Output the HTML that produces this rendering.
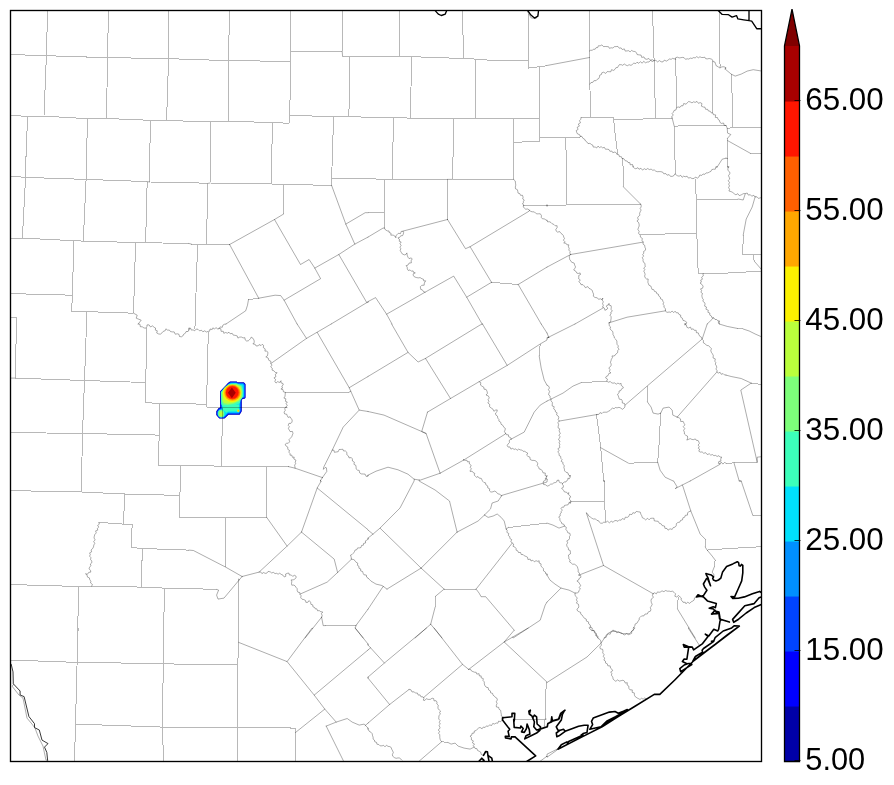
<!DOCTYPE html>
<html><head><meta charset="utf-8"><title>map</title>
<style>
html,body{margin:0;padding:0;background:#fff;}
body{width:894px;height:785px;overflow:hidden;font-family:"Liberation Sans",sans-serif;}
svg{display:block}
text{font-family:"Liberation Sans",sans-serif;font-size:32px;fill:#000}
</style></head><body>
<svg width="894" height="785" viewBox="0 0 894 785">
<rect width="894" height="785" fill="#fff"/>
<defs><filter id="idf" x="0" y="0" width="100%" height="100%" filterUnits="userSpaceOnUse" color-interpolation-filters="sRGB"><feColorMatrix type="saturate" values="0"/></filter><clipPath id="mapclip"><rect x="10.5" y="10.5" width="751" height="751"/></clipPath></defs>
<g clip-path="url(#mapclip)">
<g transform="translate(200,365) scale(0.08276)">
<clipPath id="bc"><polygon points="365,195 445,195 450,207 530,207 553,232 553,395 540,408 515,410 505,425 505,560 480,600 345,600 295,650 235,650 195,605 195,560 225,520 243,515 243,318 340,215"/></clipPath>
<g clip-path="url(#bc)">
<rect x="150" y="150" width="450" height="550" fill="#0000b4"/>
<polygon points="367,201 443,201 448,213 528,213 547,235 547,392 537,402 511,405 499,423 499,558 477,594 343,594 293,644 238,644 201,603 201,562 228,526 249,520 249,321 344,220" fill="#0010ff"/>
<polygon points="369,207 441,207 446,219 525,219 541,238 541,389 534,396 507,399 493,421 493,556 474,588 341,588 291,638 241,638 207,601 207,564 231,532 255,526 255,324 348,225" fill="#0050ff"/>
<polygon points="371,213 439,213 444,225 522,225 535,241 535,386 530,390 503,393 487,419 487,554 471,582 339,582 289,632 244,632 213,599 213,566 234,538 261,532 261,327 352,230" fill="#0098ff"/>
<polygon points="374,220 437,220 442,232 518,232 528,245 528,382 499,387 480,417 480,551 467,575 336,575 286,625 248,625 220,596 220,569 238,545 268,538 268,331 357,237" fill="#00e0fb"/>
<polygon points="276,506 472,478 468,542 458,560 342,561 318,578 296,556 276,545" fill="#3cffba"/>
<polygon points="252,325 295,272 350,228 440,222 508,248 522,300 520,385 490,425 480,462 420,492 340,508 275,503 256,470" fill="#3cffba"/>
<polygon points="262,330 300,278 350,236 440,229 500,256 513,320 508,392 472,440 402,470 332,484 282,476 264,442" fill="#7dff7a"/>
<polygon points="272,335 305,284 352,243 438,236 493,262 505,322 498,390 466,432 400,458 335,468 292,458 274,432" fill="#baff3c"/>
<ellipse cx="386" cy="342" rx="110" ry="106" fill="#fbf100"/>
<ellipse cx="391" cy="336" rx="99" ry="96" fill="#ffa700"/>
<ellipse cx="392" cy="334" rx="87" ry="85" fill="#ff6000"/>
<ellipse cx="390" cy="333" rx="76" ry="76" fill="#ff1600"/>
<polygon points="385,272 432,335 385,402 338,335" fill="#a80000"/>
<ellipse cx="256" cy="588" rx="40" ry="46" fill="#3cffba"/>
<ellipse cx="256" cy="588" rx="32" ry="40" fill="#7dff7a"/>
<ellipse cx="256" cy="590" rx="22" ry="32" fill="#baff3c"/>
<circle cx="462" cy="553" r="17" fill="#7dff7a"/>
<circle cx="462" cy="553" r="12" fill="#fbf100"/>
<circle cx="462" cy="553" r="8" fill="#ffa700"/>
</g></g>

<path d="M10,54.5 46.4,55.7 107.5,57.7 168.6,58.5 189,59.5M10,115.1 27.6,116.5 44,116.1 87.1,118.7 106.5,118.5 150.2,120.3 166.6,120.1 189,121.3M47.6,10 46.4,55.7 44,116.1M108.5,10 107.5,57.7 106.5,118.5M168.6,10 168.6,58.5 166.6,120.1M27.6,116.5 25.6,167M87.5,118.7 86.3,167M150.6,120.3 149.4,167M189,59.5 228.4,60.5 290.5,61.5M189,121.3 210.6,121.5 228.4,121.3 272.5,122.5 289.1,123.3M229.6,10 228.4,60.5 228.4,121.3M290.5,10 290.5,51.4 290.5,61.5 290.1,98.1 289.1,123.3M290.5,51.4 342.2,51.4M342.6,10 342.2,51.4M342.6,56.5 368,56.5M349.6,56.5 349.6,98.1 348.6,116.5M289.7,115.5 333.6,116.5 348.6,116.5 368,117.3M210.6,121.5 210.6,167M272.5,122.5 271.5,167M333.6,116.5 332,167M399.6,10 399.2,56.5M368,56.5 399.2,56.5 411.5,56.7 452.1,58.1 463.5,58.5 475.5,59.1 488.1,60.1 528.6,60.5M462.5,10 463.5,58.5M528.6,14 528.6,60.5 528.2,68.1 539.2,66.7 547,65.7M411.5,56.7 410.5,118.1M475.5,59.1 475.5,118.3M539.6,66.7 539.6,118.3 539.6,141.2M368,117.7 393.6,117.7 410.5,118.1 453.5,118.3 475.5,118.3 513.6,118.3 539.6,118.3M393.6,117.7 392.4,167M453.5,118.3 452.9,167M513.6,118.3 513.6,167M513.6,142.4 539.6,141.2M539.6,137.2 547,137.2M589.5,10 589.5,51 589.9,84.1 590.5,117.5M652.5,10 654.1,60.5 655.5,118.7M675.6,59.5 676.8,108.1M719.2,10 719.6,60.1 720.2,66.1M712.8,61.1 712.8,113.1M614.1,119.7 655.5,118.7 672.2,118.1M674.2,126.1 675.2,167M674.2,126.1 699.2,125.5 726,125.5M581,117.5 590.5,117.5 613.5,117.5 615.1,134.1 617.5,153.2M622.1,158.2 623.1,167M547,137.4 565.6,137.8 580,137M565.6,137.8 566.6,167M731.6,74.1 732.8,128.1M727.6,138.2 727.6,167M727.2,128.1 762,127.1M750.2,153.2 762,153.8M25.6,167 25.6,177.4 22.4,238.1M10,176 25.6,177.4 86.1,179.4 147.2,181.6M149.6,182 189,182.6M86.3,167 86.1,179.4 83.3,241.1M149.6,167 149.6,182M147.2,181.6 145.6,242.7M10,238.1 22.4,238.1 73.7,240.7 83.3,241.1 135.6,242.5 145.6,242.7 189,243.5M73.7,240.7 72.5,295.2 71.5,311.2M135.6,242.5 133.5,313.2M10,293.6 72.5,295.2M71.5,311.2 86.5,311.6 133.5,313.2M86.5,311.6 86.5,324M10,317.2 16.6,317.2 16.6,324M210.6,167 210,183M271.5,167 271.5,184M331.6,167 331.6,178.6 331.6,185.4M331.6,178.6 368,178.6M189,182.6 208,183.4M210,183 271.5,184 283.5,184.4 331.6,185.4M207.6,183.4 206.6,244.1M283.5,184.4 283.5,214.1M191.4,244.1 197.6,244.1 206.6,244.1 229.6,244.5M197.6,244.1 195,324M248.5,299.6 258.7,298.2M392.4,167 392.4,179.4M452.5,167 452.5,179.4M513.6,167 513.6,179.4M368,178.6 384.4,179.4 392.4,179.4 447.5,179.4M452.5,179.4 513.6,179.4M384.4,179.4 384.4,212.7 384.4,228.1M368,212.7 384.4,212.7M447.5,179.4 447.5,219.5M523.2,205 547,205M491.5,282.3 518.2,284.5M566.6,167 566.6,205M547,206 566.6,205 593.1,204.2 640.5,204M623.5,167 623.5,187M675.2,167 675.2,174M695.6,178.6 696.2,200 696.8,233.1 698.2,273.5M696.2,200 726,199M640.5,234.7 696.8,233.1M698.2,273.5 726,273.1M726,199 738.2,199M743.2,235.1 742.8,254.5 762,254.5M753.2,254.5 754.2,261.1M726,273.1 762,271.1M16.6,324 15,378.1M15,378.1 84.5,380.5 145.6,382.5M86.5,324 84.5,380.5 82.5,433.5 81.5,481M146.8,328 146.2,364 145.6,382.5 145.2,402.5M145.2,402.5 159.2,403.5 189,403.5M159.2,403.5 159.2,435.1 158.2,465.2M10,432.5 82.5,433.5 159.2,435.1M158.2,465.2 180.6,465.6 189,465.6M180.6,465.6 180.6,481M208.4,331.6 207.4,364 206.6,407.3M189,403.5 206.6,404.7M206.6,407.3 287.1,407.5M222.6,407.5 221.4,466.2M189,465.4 221.4,466.2 266.5,466.6 288.5,466.6M266.5,466.6 266.5,481M285.5,392.5 349.2,392.1M540.2,344 539.2,356M607.1,381.1 581,382.7M596.5,414.5 600.7,447.7 603.7,481M628.5,463.2 657.7,462.2M647.1,386.1 647.5,402.1M660.7,413.1 659.1,444.1 657.7,462.2M751.2,383.1 762,384.5M726,463.2 757.2,462.2M737.2,328.4 743.2,329M81.5,481 81.5,492M10,490.6 81.5,492 124.7,494 179.8,495.4M180.6,481 179.8,495.4 179.2,517 189,517.4M124.7,494 123.5,524.1M98.7,522.4 123.5,524.1 132.1,524.5 131.5,547.5 142.2,548.5 189,550.1M142.2,548.5 141.6,587.1M10,584.5 78.7,586.5 91.7,586.1 141.6,587.1 164.6,588.1 189,588.5M78.7,586.5 77.5,638M164.6,588.1 163.4,638M266.7,481 266.7,517.4M189,517.4 225.6,517.4 266.7,517.4M225.6,517.4 225.6,567.1M325.2,625.6 356.2,625.2M238.7,579.1 238.7,638M217,589.5 189,588.5M508.2,527.5 547,523.1M444.1,589.1 476.1,589.1M435.7,596.1 435.1,607.2M571,502 604.5,501M604.5,481 604.5,501 605.7,522M705.2,539.1 705.2,547.1M715.2,560.1 714.2,567.1M707.2,550.1 726,548.7M678.2,596.7 677.6,609.2M752.8,515.4 762,516M726,548.7 762,546.7M78.1,628 77.1,662.4 75.5,724.1 74.5,761.2M163.8,628 163.2,663.6 162.6,727.1 163.4,761.2M10,660 77.1,662.4 163.2,663.6 189,664.6M75.5,724.1 162.6,727.1 189,727.5M238.7,628 238.7,642.4 237.7,665 237.5,727.1 237.5,761.2M189,664.6 237.7,665M189,727.1 237.5,727.1 295.5,728.1 295.5,761.2M441.7,741.7 448.1,742.5M515.2,719.1 531.2,719.1 546.2,719.1M546.2,682.1 545.2,719.1 544.2,726.1M621.1,633 629.1,634M195.5,322 194.6,329.5" fill="none" stroke="#000" stroke-opacity="0.28" stroke-width="1" shape-rendering="crispEdges"/>
<path d="M342.2,51.4 342.6,56.5M527.2,11 531.2,18 536.2,18.4 538.2,14M547,65.5 589.5,57.5M589.5,51 590.7,50.2 592.4,50.3 593.5,49.1 595.1,49.3 596,47.7 597.7,47.6 598.3,45.8 600.2,45.8 601.9,44.9 603.5,46.6 605.3,46.5 607.1,46.6 608.5,46.7 609.4,48.3 611.2,47.8 612.9,48 614.3,46.7 616.1,46.6 617.9,46.4 619.2,48.2 621.1,47.9 622.2,49.5 624.4,48.9 625.2,51.1 627.2,50.9 628.6,50.7 630.1,51.9 631.6,50.4 633.1,51.3 635,51.5 636.4,52.6 637.2,54.6 639.2,54.9 641.1,55.1 641.7,57.4 644,56.9 644.9,58.8 646.8,59.3 648.9,58.5 650.4,60.2 652.4,59.7 654.1,60.8 655.9,60.3 657.5,61.9 659.5,60.6 661.1,61.8 663,61.9 664.3,60.1 666.4,61.1 667.9,60.2 669.4,59 671.2,59.3 672.7,58.3 674.5,59.1 675.8,57.6 677.4,57.2 679.2,57.9 680.8,57.7 682.5,57.4 684.1,57.7 685.5,59.3 687.2,58.8 688.8,59.1 690.3,58.1 692,58.5 693.5,57.6 695.2,57.9 696.7,56.6 698.4,57.8 699.9,56.8 701.6,57.5 703.2,57.5 704.8,57.2 705.7,58.7 707.3,58.9 709.2,58.5 711.2,59 712.5,59.8 713,61.5 715,62.1 715.5,63.9 716.3,65.9 718.4,66.8 719.7,68.1 721.4,67.1 723,66.7 724.6,67 726.1,67.8 725.2,69.1M589.9,84.1 590.9,82.6 592.9,82.3 593.9,80.7 596.1,80.7 597.2,79.3 598.8,78.5 599.5,77 599.7,75.2 601.4,74.5 601.8,72.8 603.7,72.2 605.7,73.4 607.2,71.6 609,71.7 610.8,71.8 611.5,69.7 613.7,70.4 615,69.3 615.9,67.7 617.6,67.5 618.4,66 619.3,64.7 621.3,64.7 622.6,65.3 624.3,64 625.9,65.1 627.4,65.7 629.1,64.7 631,65.4 632.4,64.4 633.8,63.1 635.7,63.6 637,62.2 638.8,63.3 640.4,61.7 642.2,63.2 643.7,61.3 645.5,62.8 647.1,62 649,62 650.4,60.4 652.5,61.5 654.1,60.5M675.4,58.3 675.6,59.5M720.2,66.1 720,67.3M672.2,118.1 671.7,116.5 673.3,115.2 672.1,113.5 673.4,112.2 674,110.5 676,109.9 676.5,107.9 678,106.9 680,107.4 681,105.8 683,105.8 683.7,103.5 686.1,104.2 687.3,102.7 688.7,101.5 690.4,102 692,102.9 693.6,101.8 695.2,102.4 697,101.4 698.4,103.3 700.2,102.6 702,103.6 701.4,106.2 703.4,107 705,107.2 705.6,109.3 707.6,109.3 708.4,111 710.2,111.2 711.1,112.8 712.9,113 713.4,114.7 715.7,114.9 715.3,117.4 717.5,117.6 718,119.4 719.5,120.4 719.9,122.3 721.4,123.4 723.6,123 724.2,125.4 726,125.5M672.2,118.1 674.2,126.1M617.5,153.2 617.1,154M581,117.5 580.8,119.3 579.5,120.7 580.5,122.8 578.3,124 579.4,126.1 577.2,127.3 578.1,129.4 576.2,130.6 576.8,132.6 577.6,134 579.4,134.5 580.2,136.2 582.1,136.7 582.9,138.3 584.6,139.2 585.5,141 587.1,142.1 588,143.6 590,143.3 591.2,144.4 592.7,145 593.3,147.1 595.2,147 596.6,148 598,146.1 599.6,147.6 601.1,146.6 602.4,147.8 604.4,147.4 605.4,149.2 607.2,149.2 608.9,149.5 609.9,151.3 611.8,151 612.8,152.7 614.9,152 616.3,152.9 617.3,154.5 619,154.8 619.4,156.6 621.4,156.7 621.9,158.4 624,158.8 625.1,160.7 627.2,161.1 628,162.5 629.9,162.7 630.2,164.8 632.5,164.5 633,166.3 633.1,167M580,137 580.7,136.1M716.2,167 717.2,167 722.2,159.2 726,158.2M725.3,68 725.2,69.1 731.2,74.1 735.2,76.1 741.2,74.1 747.2,71.1 753.2,69.7 762,71.1M726,125.5 727.2,128.1 727.6,133.1 730.8,134.5 727.6,138.2M727.6,167 728.8,167M727.6,140.6 750.2,153.2M726,158.2 727.6,158.6M147.2,181.6 149.6,182M133.5,313.2 137.2,315.2 136.2,318.2 141.2,320.2 138.2,324M208,183.4 210,183M283.5,214.1 274.5,219.5 229.6,244.5M189,243.5 191.4,244.1M229.6,244.5 258.7,298.2M274.5,219.5 300.5,264.5 309.1,259.5 314.8,268.1 320.6,278.7 284.1,300.2M331.6,185.4 345.8,224.1 354.8,244.1M345.8,224.1 365.2,212.7 368,212.7M314.8,268.1 338.8,254.5 354.8,244.1 368,237.1M338.8,254.5 366.8,302.6M368,301.6 368,302.2 366.8,302.6 331.2,324M226,324 245.7,310.8 247.5,305.2 248.5,299.6M258.7,298.2 275.1,295.2 280.7,295.6 284.1,300.2 297.1,324M447.5,179.4 452.5,179.4M368,237.1 383,228.1 384.4,228.1M447.5,219.5 403,231.1M384.4,228.1 385.4,229.8 387.2,230.9 389.1,231 389,232.4 391.1,233.3 390.8,235.2 393.1,235.1 394.7,235.9 395.9,237.8 395.8,235.8 397.1,234.7 398.3,233.3 400.5,233.6 401.2,231.4 403.2,231.3 403.6,232.5 403.3,234.1 402.6,235.6 400.7,235.8 399.7,237.4 397.9,237.9 399.4,239.2 399.3,241.3 401.2,242 400,243.6 401.1,245.6 399.9,247.1 400.8,248.7 400.2,250.5 401.1,252.1 402.2,253.9 404.3,254.9 405.8,254.5 406.9,252.9 407.2,255.2 407.9,257.1 409,258.6 411,257.9 412.2,258.8 411.1,260.8 411.4,262.8 409,263.1 408,265.1 406.1,265.6 407.2,267.2 407.3,269 408.3,270.5 410.1,269.9 411.4,271.2 413.1,270.9 413.7,272.5 415.3,272.9 413.5,273.6 413,275 414.3,276.8 416.2,277.5 418.2,277.9 420.1,277.6 422,278.8 423.4,279.2 423.8,281 425.7,280.8 424.3,283 424.2,285.2 421.8,285.3 420.3,286.8 420.8,289.5 422.3,289.8 423.4,291.5 425.1,292.2M447.5,219.5 465.5,248.7 470.1,246.7 491.5,282.3M470.1,246.7 529.2,211.1 529.5,210.2M513.6,179.4 515.2,180.9 515.5,183.2 515.8,185.1 515.3,187 515.5,188.8 517.4,189.7 517.8,191.3 518,193.1 519.8,193.6 520.5,195.3 522.5,195.3 523.1,197.2 522.7,198.9 524.3,200 523.4,201.3 523.4,202.8 522.4,204 524,205 523.1,206.9 524.4,208 525.7,209.2 527.7,209 529.2,209.9 530.6,211.4 532.4,211.8 534.3,211.9 535.5,213.1 536.9,213.9 538.6,213.8 540.3,213.8 541.4,215.5 541.3,217.5 542.6,218.9 544.1,218.8 545.6,219.7 547,220.7M547,205 547.1,206M386.6,314.2 425.1,292.2 453.7,276.1 466.7,297.2 482.1,324M466.7,297.2 491.5,282.3M518.2,284.5 547,267.1M518.2,284.5 541.2,324M368,302.2 368,301.6 375.6,297.6 386.6,314.2 392,324M547,205 547,206M623.5,187 640.5,204M633.1,166.2 633.2,167 634.4,168.2 635.9,168.8 637.9,167.7 639,169.3 640.9,168.2 642.5,170.1 644.3,168.7 646,169.7 647.7,168.5 649.4,169.6 651.1,169.1 652.6,170.2 654.4,170 655.8,171.2 657.4,171.7 659.1,171.6 660.9,171.7 662.7,172.1 663.8,173.8 665.9,173.6 667.1,175.2 669.1,174.6 670.4,176.3 672.2,176.4 673.9,175.6 674.9,173.8 676.3,175 677.6,175.8 679.1,176.2 680.7,175.3 682.1,177.3 683.7,176.1 685.1,176.8 687.1,176.2 688.4,178.1 690.3,177.6 692.1,178.6 694.2,178.4 695.3,177.1 697.6,178.1 698.9,177 699.8,175 701.8,175.4 703,174 704.9,174.3 706.1,172.9 707.9,172.9 709.3,172.1 710.9,171.4 711.8,169.6 713.5,169.2 715.3,169.2 715.9,166.8 717.2,167M640.5,204 641.2,205.5 641.1,207 640.1,208.6 641.2,210 640.3,211.6 639.6,213.3 639.9,215.2 638.5,216.4 637.6,217.8 638.4,219.9 636.9,221 638.5,222.4 639.1,224.1 639.2,226 638.4,227.8 637.9,229.5 639.2,231.4 638.5,233.1 639.3,234.3 640.3,235.3 640.4,237.1 642.3,238.4 642,240.5 643.2,242 643,244.1 644.7,245.3 644.9,247.2 645.7,248.9 645.3,250.4 643.6,251.5 643.8,253.2 642.7,254.5 643.7,256.2 642.2,257.5 643.1,259.2 643,260.7 643.5,262.3 645,263.4 645,265.2 645.3,266.7 643.7,268 644.9,269.7 643.7,271.1 644.7,272.8 645.1,274.4 644.6,276.1 645.2,277.8 646.3,278.9 648.2,279 648,280.7 647.9,282.3 648.4,283.7 648.9,285.2 650.8,286 651.4,287.6 651.9,289.3 653.8,289.7 654.6,291.5 656.3,291.9 656.8,293.7 658.5,294.3 658.8,296.1 660.3,297.1 660.6,298.9 662.4,299.6 662.9,301.3 663.7,302.6 662.9,304.3 664.3,305.6 663.8,307.2 665.5,308.7 665.3,310.9 667,312.4 669.2,312 670.7,312.4 672.1,311 673.7,312.6 675.1,311.2 676.3,312.8 678.2,312.8 679,314.5 680.7,315.1 680.7,317.2 682.3,318.1 683,320.4 685.3,321 686.6,322.3 686,324 685.2,325M570.6,254.5 643.1,242.1M547,220.1 547.6,221.8 549.7,221.8 551.1,222.6 552.2,223.8 553.8,224.4 555.2,225.8 557.1,225.7 557.1,227.8 555.8,229.3 556.2,231.1 557.5,232.1 559.7,231.6 560.9,233.3 562.2,234.2 563.3,235.5 563.8,237.2 564.5,238.6 563.3,240.1 564.8,241.6 563.8,243.1 565.8,243.1 566.9,244.8 568.8,244.8 568.4,246.8 569.2,248.4 568.8,250.1 570.1,251.4 569.8,253.1 570.7,254.5 569.2,256 569.5,258.1 569.8,259.7 570.9,261 571.7,262.3 574.1,263 574.8,265.4 575.6,267 574.7,268.5 573.7,270 575.9,271.3 576.9,273.2 578.6,273.4 580.1,272.9 580.5,274.5 578.7,275.5 578.8,277.2 578.6,278.7 580.3,279.9 578.8,281.8 580.4,283.1 581,284.7 583,284.7 584.2,285.9 585.4,287.7 587.8,286.6 589,288.3 590.7,289.2 592.2,290.3 592.8,292.4 593.6,294.1 593.3,296.2 595,297.5 597.3,297.8 598.5,299.3 600.5,298.8 602,299.7 602.9,298 602.1,299.9 603.3,301.8 602.6,303.6 603.3,305.4 602.5,307.2 604.4,308.2 604.9,310.3 607,309.3 607.9,308 606.4,306.7 607,305.1 608.3,305.1 609,303.4 609.3,305.2 611.1,305.7 611.3,307.3 611,309.3 612.4,311.1 610.8,312.2 611.1,314 609.8,315 611.1,316.7 611.1,318.4 610.8,320.2 610.7,321.9 609.1,322.8M547,267.1 570.6,254.5M575,324 602.7,308.2 603.2,307.8M703.2,273.5 703,274.1 703.3,275.9 701.6,277.3 702.5,279.2 700.7,280.1 701.4,282.1 700,283 701.9,284.4 703.1,286.2 702.6,288.2 700.5,288.9 701.6,290.5 700.9,292.3 702.5,293.5 701.9,295.2 702,296.7 702.4,298.2 703.4,299.6 702.8,301.2 704.4,302.4 705.1,303.9 704.6,306.1 706.5,307 705.9,309.2 708.3,310.2 707.9,312.3 709.8,313 709.8,315.1 711.4,316 712,317.9 714,318 715,319.5 716.7,319.5 717.7,320.8 719.3,320.9 718.4,322.6 719.2,324M707.2,324 712.2,319.2 713.3,317.7M609.1,322.8 627.1,317.2 665.5,310.8M727.6,167 728.8,166.7 727.9,168.7 727.9,170.4 729.8,172.1 729.8,173.8 728.5,175.6 729.2,177.3 729.8,179 728.1,180.7 729.5,182.4 728.7,184.2 729.5,185.9 728.6,187.6 729.6,189.3 728.9,191 731.1,191.6 732.8,192.5 734.3,193.8 735.9,194.8 737.8,193.7 739.3,195.6 741.2,194.9 742.4,194.2 743.7,193.6 745.3,193.6 747.2,193 748.3,195.1 750.3,194.7 751.7,196.2 753.8,195.3 755.1,197 757,196.8 758.4,198.4 760.6,197.8 762,199M738.2,199 743.2,200 745.2,194M755.2,196.6 752.2,207 746.2,219.1 743.2,235.1M754.2,261.1 762,270.1M10,378.1 15,378.1M138.2,324 140,324.3 140.3,326.7 142.3,326.8 144,328 146.1,328.1 146.9,326.6 147,324.9 149.1,324.9 150.4,326.9 152.6,325.9 154.1,327.3 155.6,328 155.3,330.1 157.3,330.8 156.7,333 158.4,333.9 160.3,334.2 162.1,332.8 163.2,331.4 165.2,330.7 165.9,328.8 167.5,330.1 169.4,330.1 170.5,331.6 172.3,331.9 174.2,331.9 175.2,334.2 177.3,333.8 179,334.3 179.5,336.5 181.4,336.8 182.8,336 183.7,334.2 185.4,333.2 186.1,331.5 188.1,331.5 188.8,329.8 189.8,328.4M189,330 188.7,328 190.6,328.2 191.3,330.1 193.1,329.9 194.7,330.8 196.3,329 198,329.3 199.5,330.8 201.6,330.3 202.9,331.8 204.7,330.8 206.4,332 208,331.4 209.6,331.2 210,329 212.2,329.5 212.9,327.8 214.5,329.1 216.1,327.5 217.5,329.1 219,328.7 220.1,326.9 222.3,327.3 222.9,325.1 224.3,324.3 226,324M219,328.4 220.9,328.8 221,331.3 223.3,331.3 223.8,333.3 225.7,332.5 227.4,333.2 229,332.2 230.2,333.8 232.2,333.3 233.2,335.1 235,335.3 237.2,335.9 237.9,338.1 239.7,337.1 241.3,337 243.1,337.9 244.9,337.7 245.2,339.9 246.3,340.9 248.2,340.9 249.3,339.9 250.5,338.7 251.2,337.1 252.9,338.2 254,340.1 254.3,342.2 252.9,344 255,344.1 256.1,346 258.2,345.8 259,344.6 261.1,345.5 262.2,344.3 263.6,345.4 263.3,347.6 265.2,348.9 264.9,351.1 266.7,351.2 268,352.3 267.8,353.8 267.5,355.7 265.8,356.9 268.2,358 268.8,360.3 270.9,361.3 270.8,363.6 272.1,365 270.7,366.9 272.3,368.3 272,370.1 273.9,370.8 275.3,372.4 277.2,372.8 275.3,374.3 275.9,376.8 273.9,377.9 275.6,379.4 274.9,381.6 276,383.1 277.5,381.7 279.7,382.4 281,380.7 280.9,382.8 283,383.5 283.2,385 281.8,386.1 282.6,388.1 280.9,389 283,389.6 283.4,391.8 285.3,392.3 285.2,394.4 285,396.3 283.9,398.1 285.9,398.8 285.4,401.3 287.3,402 286.1,403.6 287.3,405.6 285.8,407 284.8,408.5 285.2,410.6 284,412 284.6,413.9 286.8,414.3 287.3,415.9 288.1,417.4 290.1,416.8 291,418.3 292.2,420 292,422.1 291,423.3 288.9,423.4 288.2,425.3 289.3,426.6 288.4,428.5 289.3,430.1 290.1,431.6 292.4,431.4 293,433.3 292.4,435 291.7,436.8 290.3,438.3 289,439.6 289.7,441.8 288.3,443.2 286.5,443.3 285.2,444.3 285.9,445.9 287.8,447.1 287.8,449.4 289.5,450.4 288.9,452.2 290,453.5 290,455.2 291.8,455.1 292.4,457.3 294.2,457 293.8,459 296,460.2 295.2,462.3 295.7,463.7 294.6,465.1 294.9,466.7 295.1,468.2M287.1,407.5 286.1,407.1M288.5,466.6 295.1,468.2 322.4,477.6M297.1,324 306.5,338.4M271.1,363.4 306.5,338.4 331.2,324M317.2,332.4 349.2,387.7 359.2,410.1 368,411.5M349.2,392.1 350.8,391.3M349.2,387.7 368,376.5M359.2,410.1 343.2,427.1 332.2,450.2 323.6,467.4 323.4,469.4 325.2,467.4 326.4,467.8 326.8,471.4 322.4,477.6M322.4,477.6 320.2,481 320.9,481.4M332.2,450.2 333.9,450.1 334.4,452.3 336.2,452 338.2,451.7 339.1,449.5 341.4,449.4 342.8,449.2 343.6,451 345.3,450.9 346.9,452.4 346.8,454.7 348.5,456 349,457.9 351.3,457.6 352.4,458.9 352.4,461 354.4,462.2 353.9,464.3 355.8,465.3 356.1,467 356.1,468.9 357.4,470.1 359.2,470.4 359.7,472.9 361.2,473.9 363.3,474 365.1,474.1 366.1,476.4 368.1,476.1 368,475.2M391.6,324 408,352.4 418.1,362 425.5,358.4 480.1,325 482.5,324M368,376.5 408,352.4M425.5,358.4 450.5,398.5M482.5,324 507.2,365.4M541.2,324 547,333M427.5,412.1 450.5,398.5 479.1,381.7 507.2,365.4 540.2,344 547,340 547,338M427.5,412.1 421.7,431.5 426.1,433.5M368,411.5 384,415.1 421.7,431.5 426.1,433.5 440.1,473.2M479.1,381.7 480.8,382.7 480.5,385.1 482,386.2 483.8,387.2 484,389.2 486.1,389.4 487,391.3 487.5,393.3 486,395 488.3,395.9 489.3,397.9 488.1,399.6 488.9,401.5 487.8,403 489.7,404.4 489.6,406.8 491.2,408 493,409.2 493.9,411.3 495.5,410.1 497.2,409.9 497.1,411.6 495.5,413.1 495.9,415.1 497.5,416.2 497.7,418.1 498.9,419.3 498.9,421.1 500.8,422.3 501,424.2 502.9,425.4 503.9,427.4 505.4,428.5 505,430.1 504.4,431.7 505.5,433.1 506.3,434.7 508.4,434.8 508.7,436.8 510.5,437.6 511.2,439.1M440.1,473.2 464.1,459.8 505.2,434.1 505.6,433.4M539.2,356 541.2,368.1 544.2,380.1 547,385.1M511.2,439.1 524.2,432.1 529.2,422.1 534.2,412.1 540.2,405.1 547,401.1M511.2,439.1 509.3,440.3 509.4,442.6 508,444 507.2,445.6 508.1,447.1 509.9,446.9 510.9,449.1 512.8,448.3 514.1,449.5 515.7,448.8 517.1,450.3 518.7,449.1 520.2,449.9 521.8,450 523.1,451.3 524.8,451.3 526.1,452.3 527.7,453.1 526.7,455.2 527.9,456.3 529.9,457.1 530.2,459.5 532,460.4 534.1,460.4 535.8,460.9 537.1,462.3 537.8,463.8 537.2,465.6 538.6,467.1 539.1,468.9 541.2,469.5 542.4,471 543,472.9 545.3,473 545.1,475.6 547.3,475.9 546.3,476.8M367.6,476 368,475.2 376,471.2 388,467.2 398,469.8 408,474.2 414.1,479.2 420.1,480.2 440.1,473.2M548.7,337.3 547,338 575,324M547,333 549,338 548.6,337.2M609.1,322.8 609.2,324 609.2,325.7 610.6,326.9 610,328.9 611.1,330.1 612.6,331.3 613,332.9 613,334.7 614,336.1 614.4,338 615.8,339.4 616.9,341 616.9,343.1 617.2,344.7 618.4,345.9 617.8,347.8 619.2,349 617.8,350.5 617.6,352.7 615.9,354 615.1,355.4 613.7,356 612,355.9 612.4,357.7 611.4,359.2 611,360.8 610.4,362.3 611.2,364.1 611,365.7 610.1,366.9 608.8,367.9 610,369.6 609.5,371.6 610.9,373 608.8,373.5 608,375.7 606.3,376.4 605.6,377.9 607.5,379.2 606.7,381.1 608.4,382.2 610.3,381.5 611.5,382.8 613,383.2 614.7,382.9 616.2,384.2 617.9,383.1 619.5,383.9 621.1,383.4 621.2,385.4 622.7,386.5 623.4,387.9 621.6,388.8 620.8,390.6 619,391 619.1,392.8 617.5,394.2 618.4,396.1 618.8,397.6 619.3,399.2 621.5,399.5 622.3,400.9 622.3,403 624.5,403.5 624.9,405.2 624.9,407 623.8,408.3 622.4,409.3 620.6,408 619,407.3 617,407.9 615.5,407.5 614.1,408.7 612.4,408.1 611.1,409.2 609.9,410.6 608.4,411.3 607,412.2 605.1,412.2 603.3,412.2 602,413.5 600,412.6 598.8,414.4 597.1,414.5M581,382.7 573,386.1 563,393.1 551,399.1 547,401.1M547,385.1 548.7,386.2 549.5,388 548.4,389.6 549.6,391.5 548.9,393.1 548.6,394.8 550.1,396 550.1,397.7 551.2,399 550.9,400.8 552.3,402.3 552.3,404 552.1,405.9 554.2,406.7 553.7,408.9 555.2,410 555.4,411.8 557.1,412.8 556.6,414.9 558.2,416 558.8,417.7 558.1,419.6 559.4,421 557.9,422.6 558.6,424.5 558.2,426.2 558,427.8 559.8,428.9 559.1,430.8 559.7,432.2 560.3,433.7 558.8,435 560.1,436.8 559.3,438.2 558.5,439.8 560.1,441 559,442.8 559.9,444.2 559.4,445.7 559.9,447.5 557.9,448.7 559,450.7 557.7,452.1 559.2,453.4 559,455.4 560.7,456.4 560.8,458.3 562,459.5 561.2,461.4 563.1,462.5 562.8,464.2 564.3,465.5 563.9,467.5 564.4,469.1 564.6,470.9 565.9,472.2 568,472.9 568.5,475 570,476.2M559,421.1 597.1,414.5M603.7,481 604.5,481M600.7,447.7 628.5,463.2M625.1,405.1 647.1,386.1 702.2,339 707.2,324M647.5,402.1 651.1,407.1 653.1,413.1 658.1,414.1 660.7,413.1M657.7,462.2 660.1,470.2 665.1,477.2 673.2,481M660.7,413.1 663.1,408.1 669.1,407.1 672.2,410.1 672.8,415.1 677.2,417.1M677.2,417.1 679,417.8 680.5,418.9 680.7,421.5 683.2,421.4 684,423.3 684.9,424.9 683.2,426.7 684.8,428.5 683.6,430.3 684.4,432.1 684.4,434 685.7,435.2 687.4,436 687.7,438.1 686.8,440.1 688.7,439.3 690.2,438.6 692,439.5 693.7,439.6 695.3,438.9 696.1,440.2 698.2,440.6 699,442.3 699.3,443.7 698,445 699.4,446.8 698.1,448.1 699.6,449.1 698.8,451.2 700.4,452.1 702.1,451.9 703.7,453.3 705.7,452.7 707.2,454.5 709.3,453.8 710.7,455.1 712.5,454.6 713.9,455.7 715.7,455.4 717.1,456.5 718.9,455.7 720.1,457.1 721.7,457 720.7,459.1 721,461.2 718.9,461.4 718.3,463.3 719.8,463.7 721.3,462.2 722.9,464.1 724.5,462.5 726,463.2M677.2,417.1 716.8,372.1M685.9,323.4 684.2,324.1 686.3,324.9 686.9,327.3 688.5,328 690.5,327.1 691.4,329.4 693.2,328.8 694.2,330.3 696.2,330.3 696.4,332.7 698.3,332.9 698.9,334.7 699.8,336.3 701.5,337.3 702,339.1 703.4,340.5 703.4,342.8 705.3,343.9 706.6,345.4 708.7,345.8 710.1,347.2 711.4,348.6 710.8,350.7 711.4,352.4 712.5,353.9 713.3,355.6 713,357.9 715.3,358.9 714.8,361.2 715.8,362.6 715.3,364.2 716.3,365.7 716.8,367.2 715.9,369 717,370.4 716.9,372 718.1,373.2 720.1,372.3 721.2,374.3 723.1,373.6 724.4,374.9 726,375.1M690.2,481 720.2,464.2 720.2,463.2M726,375.1 731.2,376.5 741.2,378.5 751.2,383.1M751.2,383.1 740.8,390.1 757.2,462.2M757.2,462.2 757.2,457.2 762,456.6M734.2,462.9 734.2,463.6 739.2,481 741.2,481M719.2,321.2 719.2,324 727.2,326.4 737.2,328.4M743.2,329 749.2,331 755.2,334 762,337M98.7,522.4 99.4,524.1 97.6,525.4 98.8,527.1 97.3,528.5 97.8,530.1 95.6,530.9 96.3,532.9 94.8,534.5 94.3,536.2 94,538 95.2,539.9 93.7,541.5 94.8,543.4 93.8,545 93.5,547 92.5,548.7 91,550 91.7,551.8 89.6,552.9 90.3,554.7 89.5,556.1 90.9,557.6 90.6,559.6 91.8,561 91.8,562.8 90.3,564 90.9,565.8 89.6,567.1 89.1,568.9 90.5,570.4 90.8,572.1 88.7,572.4 87.6,574.2 85.5,573.8 87.1,575.2 87.5,577.1 89.4,577.9 89.8,579.8 90.9,581.2 90.5,582.9 92.4,584.4 91.7,586.1M189,550.1 193.4,550.5 225.6,567.1 242.1,576.5M266.7,517.4 287.1,546.1M242.1,576.5 259.1,572.1 287.1,546.1 301.5,532.1M301.5,532.1 317.2,488 321.2,481 320.4,480.5M317.2,488 368,529.7M301.5,532.1 334.2,559.1 337.6,572.5M300.1,594.1 327.2,582.1 337.6,572.5 351.6,559.1M259.1,572.1 260.7,571.9 261.9,573.6 263.7,572.5 265.1,573.4 266.9,573.1 268.1,571.4 270.2,571.8 271.5,572.9 273.6,572.4 275,573.7 276.6,573.3 278.1,574.2 279.7,573.2 281.1,574.3 283,575.2 284.3,577 285.8,576.3 285.6,574 287.4,573.3 288.8,573 289.5,575.1 291.2,574.9 292.6,576.3 294.6,575.3 296.1,576.3 296.1,577.8 294.8,579 293.2,579.9 291.1,579.9 291.8,581.7 291.5,583.5 291.8,585.2 293.8,585.1 295.1,585.9 296,587.3 297.2,588.7 297.2,590.6 297.9,592.2 299.8,592.5 300,594.3 301.1,595.7 300.7,597.8 302,599.2 303.9,599.6 305.4,600.4 305.9,602.4 308,602.2 309.1,600.6 310.6,602.2 310.9,604.3 312.8,604.9 312.9,606.8 314.7,607.5 315.4,609 316.8,608.8 317.6,610.8 319.2,610.6 320.8,611.7 322.8,612 321.4,613.6 322.2,615.6 321.6,617.2M321.6,617.2 323.2,625.6 325.2,625.6M356.2,625.2 368,609.2M356.2,625.2 355.2,628.2 363.2,638M321.6,617.2 305.1,638M239.4,579.7 238.7,579.1M242.1,576.5 224,598.1 218,599.1 216.6,595.1 218.6,590.1 217,589.5M368,538.1 368.2,539.1 366.9,540.1 365.4,540.9 365.6,543 363.6,543.4 363.4,545.2 361.6,545.4 361,547.5 359.4,547.9 357.6,547.9 356.8,549.7 355.1,550 354.4,551.8 353.4,553.2 352.1,554.5 350.4,555.3 351.2,557 351.3,559.2 353.5,559.5 355,560.6 356.1,562.3 357.8,563.2 357.4,565.3 359,566.3 358.9,568.2 360.7,568.9 360.7,571 362.6,571.5 363.1,573.2 363.9,574.8 366.3,575 366.6,577.1 368,578.1M414.3,479.2 414.1,481 400,508 380,528.1 421.1,568.1M368,539.1 368,538.1 373,534.1 380,528.1M368,530.1 373,534.1M419.2,480 419.1,481 435.1,490 449.5,501 457.1,532.1M457.1,532.1 421.1,568.1M457.1,532.1 478.1,521 484.5,515M484.5,515 490.5,509 492.1,503 498.2,501 501.8,495.4M501.8,495.4 547,482 547.3,479.3M484.5,515 488.1,517.4 493.2,516 497.2,514 501.2,517.4 504.2,521 506.2,529.1M506.2,529.1 508.2,527.5M506.2,529.1 507.2,530.4 506.9,532.4 508.8,533.5 508.3,535.5 509.8,536.7 509.9,538.5 511.7,539.6 510.8,541.8 512.3,543 513.7,544.1 513,546.3 514.9,547.1 516,548.3 516.1,550.2 517.7,550.8 518.5,552.5 520.6,552.5 521.2,554.5 523.2,554.6 524.4,555.9 526,556.4 527.5,557.2 527.9,559.5 530.2,559.1 531,561 532.8,560.2 534.4,561.8 536,560.7 537.6,561.3 539.2,560.8 539.1,563 541.1,563.9 540.9,565.9 542,567.2 543.4,568.6 543.5,570.9 545.4,572 545.5,573.6 547.1,574 547,575.1M512.2,543.1 476.1,589.1M421.1,568.1 444.1,589.1M421.1,568.1 387,589.1M368,578.1 371,581.1 376,584.1 382,585.5 387,589.1M383.3,586.4 382,588.1 368,609.2M444.1,589.1 435.7,596.1M435.1,607.2 430.7,624.2M430.7,624.2 415.1,638M430.7,624.2 442.1,638M476.1,589.1 479.1,593.1 481.1,596.7 485.7,596.7 514.2,630.2M512.6,637.1 513.2,638 540.2,620.2 545.2,605.1 547,602.1M571,502 569,502.5 568.1,504.8 566.1,505.1 564.5,505.4 563.8,507.2 562.1,507.1 561,508.4 562.3,510.1 561.2,511.5 561.2,513 560,514 560.2,516 558.7,516.9 559.9,518.6 559.9,520.6 561.3,521.9 561.8,523.7 563.9,524.3 564.5,526.1 566.3,527.3 565.9,529.5 567.2,531 567.8,532.8 569.9,533.3 570.3,535.3 569.5,536.4 569.5,538.5 568.6,540 566.8,540.9 567.7,542.8 566.6,544.7 567,546.4 568.4,548 568.4,549.8 570.2,550.5 570.4,552.2 570.4,553.9 568.4,555.1 568.8,557.2 568.8,558.8 570.2,560 569.6,561.9 571.2,563 572.5,564.2 574.5,564.2 576,565.3 577.3,566.5 577.8,568.3 578.3,570 578,571.9 579.7,573.2 578.7,575.2 580.7,575.5 580.9,577.3 579.4,578.1 578.6,580 576.9,581 578.8,582.3 579.9,584.2 580.7,585.8 579.2,587.3 580.4,589.1 578.9,590.5 578.7,592.1 577.1,593 575,592.9 575,595.1 576,596.6 577.3,598 576.4,599.8 577.3,601.5 576.4,603.1 578.4,604.2 578.8,606.3 578.4,607.9 576.9,609.1 577.5,610.8 578.8,611.7 580.6,612.3 580.8,614.2 582.2,615.1 583.2,616.7 584.3,618.2 586.2,619 586.4,621.1 588.5,621.9 588.7,623.9 590.3,625 590.3,627 592.3,628.1 591.9,630.2 594.1,630.8 594.5,633 596.3,634 596.3,635.7 597,636.9 598.1,638M547,523.1 553,525.1 559,528.1 564.6,526.1M603.7,481 604.5,481M586.4,513 587.9,514.2 588.6,515.9 590.2,516.9 591.7,518.1 593.3,519 595.5,518.9 596.9,520.4 598.5,520.7 599.3,522.1 600.5,523.1 602.2,523.3 603.7,522.2 605.8,522.4 607.5,521.2 609.4,522.8 611.2,521.2 613.1,522.3 614.5,520.7 616.1,520.5 618,521.3 619.3,519.9 621.1,520.2 622.3,518.6 624.5,519.4 625.3,517.2 627.3,517.4 628.8,516.4 629.6,514.3 631.9,514.5 632.9,512.7 635,513.2 636.3,511.4 638.2,511.8 640.2,512 640.9,514.3 641.8,515.8 642.3,517.7 644.2,518.6 645.6,519.9 647.6,518.3 649.1,519.8 650.5,518.4 652.2,518.2 654,518.3 654.2,520.8 656.1,521.1 658.2,521.3 659.3,523.3 661.2,523.9 662.2,525.6 664.5,526 664.9,528.3 667,528.5 668,530.2 670,528.8 672.2,529.4 673.2,527.6 675.1,527.1 676.2,525.8 676.4,523.6 677.8,522.5 679.9,522.1 680.6,520.4 682.5,519.9 682.9,517.8 684.7,517.2 685.3,515.3 687.5,515.1 687.6,512.7 689,511.7 690.8,511M682.3,485 682.8,486 690.8,511 700.2,534.1 705.2,539.1M705.2,547.1 707.2,550.1 712.2,556.1 715.2,560.1M714.2,567.1 712.2,572.1 714.2,575.1 713.1,576.4M673.6,481 677.2,487 675.2,488.6 690.2,481M586.4,513 603.5,565.5M579,575.1 603.5,565.5 653.1,593.7M653.1,593.7 654.5,592.8 656.4,593.8 657.5,591.9 659.2,592.3 660.7,591.8 662,590.8 663.9,591.7 665.6,590.5 667.4,591.2 669.2,591.1 670.7,591.5 672.6,591.2 674.1,592.4 675.6,593.9 674.8,596.2 676.7,597 678.6,595.5 680.1,597 681.3,598 681,599.9 682.4,601 683.2,602.4 685.2,602.2 686,603.8 687.6,602.2 689.7,603.4 691.1,601.9 692.7,601.1 694.1,600.1 694.5,597.9 696.2,597.1M677.6,609.2 695.2,638M653.1,593.7 652.4,595.4 653.4,597.4 651.5,598.8 651,600.5 651.3,602.4 652.2,604.3 651.4,606 650.3,607.6 650.9,609.5 650.4,611.2 648.3,611.9 647.3,614 645,614 643.9,615.9 641.6,615.9 640.2,617.3 639.1,618.3 639.2,620.1 638,621.1 637.1,623.1 635,624.1 635,625.8 633.7,627 633.3,628.6 633.4,630.3 631.6,631.2 631.7,633.3 630,634.1 628.3,634.7 626.6,633.7 624.8,634.9 623.1,634.4 621.8,633 620.2,632.8 618.8,631.9 616.8,632.9 615.7,631.4 614,631.4 612.4,631.4 610.9,632.1 610.2,634.2 608.2,633.9 607,635 606.2,637.3 604.1,638M547,574.1 547,575.1 550,580.1 555,584.1 561,588.1 569,590.1 575,593.1M561,588.1 547,602.1M739.2,481 741.2,481 752.8,515.4M13.8,684.4 12,686.1 19,695.1 23,698.1 27,718.1 32,724.1 35,728.1 38,736.1 43,746.1 46,760.2 47.6,760M238.7,642.4 287.1,661.6 312.1,628 312.7,628.4M287.1,661.6 314.2,695.1 324.8,709.1 336.2,722.1M314.2,695.1 368,650M355.2,628 368,644 368,645M295.5,732.5 324.8,709.1M326.2,726.1 336.2,722.1 347.2,718.5 352.2,722.1 359.2,725.1 364.2,724.1 368,728.1 368,729.1M326.2,726.1 343.6,761.2M368,678.1 368,677.1 384.4,663 426.5,628M368,644 368,645 384.4,663M368,677.1 368,678.1 389.6,704.5M368,723.1 389.6,704.5 409,689.5M409,689.5 411,689.8 412,692 414.2,691.8 415.4,693.1 417.4,693 418.2,695.1 420.1,694.9 420.9,696.8 422.9,696.8 423.9,698.3 423.3,700.2 424.9,700.4 426.3,698.7 428.1,699.4 430.3,699.4 432.1,698.2 433.7,698.6 434,700.9 436.1,700.7 437,702.2 436.8,703.9 438.3,705.3 437.9,707.1 438.2,708.9 439.3,710 440.6,711 439.6,712.5 440.4,714.2 438.9,715.5 438.9,717.1 438.7,719 440.1,720.5 439.3,722.4 440.3,724.1 438.9,725.4 440,727.3 439.6,728.8 438.1,730 439.7,731.4 438.5,733.2 439.7,734.6 439.8,736.1 439.8,737.7 440.1,739.2 440.6,740.5 441.7,741.7M423.6,697.7 424.1,697.1 462.5,664.4M434.1,628 462.5,664.4 468.7,669.4M468.7,669.4 504.2,642 514.2,630.2M504.2,642 528.2,628M504.2,642 547,682.1M468.7,669.4 470.5,669.3 471.5,671 473,671.6 474.5,672.2 476.2,672.3 476.8,674.1 479.1,673.7 479.3,675.9 481.2,675.9 481.1,677.8 483.3,678.6 483,680.5 484.3,681.9 484.3,683.9 484.9,685.6 486,687.1 488.2,687.7 488.6,689.9 490.4,690.9 490.6,692.8 492.6,693.4 493,695.2 494.4,696.1 495.4,697.4 496.9,698.2 497.4,699.9 496.3,701.7 497.1,703.5 496.3,705.1 496.4,707 498.7,707.4 499,709.2 500.7,710.4 500.9,712.3 501.3,714.1 501.3,716.1 503.2,717.1M503.2,717.1 503.3,719.2 501.7,720.5 500.6,721.7 498.6,721.1 497.9,723.2 496.1,723 494.7,724 492.7,723.5 491.6,725.5 489.5,724.9 488.2,726.4 486.4,725.9 485.1,727.5 483.3,727 482.1,728.8 480,727.4 478.5,728.1 477.2,729.2 476.2,730.5 474.3,731 474.1,733.1 472,733.3 471.7,735.3 470,736 471.4,737.6 471.4,739.9 473.4,740.9 472.4,742.8 474.5,744 473.1,745.8 474.4,747.1 475.1,748.5 477,748.7 477.6,750.5 479.1,751.2 480.8,752.2 481.2,754.4 483.1,755.2M448.1,742.5 451.1,744.1 455.1,743.1 458.1,746.1 464.1,748.1 470.1,749.1 474.1,747.1M441.7,741.7 419.1,761.2M368,728.1 368.1,729.1 369,731.1 370.9,732.2 372.2,733.7 372.5,735.5 373.1,737.2 373.1,739.1 374.4,740 374.8,741.8 376.6,742.4 376.9,744.2 378.8,744.5 380.2,745.9 382.2,745.8 383.5,745.3 385,746.8 386.5,745.2 388,746.4 389.8,746.6 391.2,747.5 391.8,749.4 392.6,750.8 393.3,752.5 392.4,754.5 392.7,756.2 394.4,757.6 396.1,758.3 398.1,757.9 399.7,758.1 400.9,759.1 402,760.2M514.4,719.1 515.2,719.1M546.2,719.1 545.2,719.1M544.2,726.1 544.7,727.6M540.2,761.2 547,756.2 547.5,756.8M547,682.5 587,657 601.1,643 607.1,634 613.1,630.4M590.9,627.3 589,627.8 590.4,629.3 591.6,630.7 594,630.3 595,632.1 596.2,633.3 595.7,635.4 598,636.2 597.8,638.2 599.7,639.3 600.8,640.9 601,643.1 601.4,645.2 599.8,647 600.4,648.9 602.6,649.3 603,651.1 602.7,652.9 604.1,654.6 603.3,656.5 604.7,658.1 603.9,660.1 605.4,661.1 605.6,663.1 607.3,663.8 607.8,665.8 610.2,665.9 610.5,668.1 611.9,669.2 612.7,670.7 610.7,671.9 611.9,673.7 611.3,675.1 612.2,676.2 612.9,677.6 613.1,679.2 614.4,680.3 615.8,681.3 617.6,679.9 619.3,681.1 621.1,680.7 623,680.2 624.4,681.1 625.3,683.1 627.3,682.7 627.1,685 628.9,686.2 628.8,688.2 629.9,689.8 632.3,689.9 632.2,692.4 634.3,692.9 634.4,695.2 635.4,696.8 637.2,698 638.6,698.7 640,699.5 641.7,698.2 643.1,699.2 644.5,698 646.2,698.7 646.5,699.2M613.1,630.4 621.1,633M629.1,634 635.1,628 634,627.6M688.8,627.6 688.2,628 699.2,645 699.6,645.6M547,756.2 547,754.2 558,748.7M546.5,756.5 547,757.2 557,750.1 556.7,749.4M547,476.1 546.4,476.9 546.3,478.3 547,479.4 545.4,478.1 545.4,480.3 543.5,481.2 543.2,482.9 543.6,484.5 545.4,484.7 547.2,486.1 549.1,485.5 550.5,484.2 552.4,484 553.9,482.8 555.7,482.5 556.8,481.8 557,480.4 558.9,480.1 559,481.8 560.1,482.8 561.2,482.7 562.4,483.4M569.8,475.9 570.2,475 570.1,477.3 569.5,478.6 567.9,478.2 568,479.8 566.6,480.7 565.9,482 564.2,482 562.5,483.5 562.5,484.8 563.5,485.8 563.2,487.5 561.6,488.2 563.5,490.3 564.5,492 566.6,492.2 567.5,493.5 569,492.7 568.2,494.4 569.7,495.4 570.8,497.1 569.5,497.8 569.6,499.6 570.6,500.5 570.6,502.2 570.1,503.6 569.6,502.9M463.7,460 463.1,459.6 465,460.4 466.9,460.2 467.5,461.9 469.3,461.6 469.4,463.9 471.2,465.4 470.2,467.3 471.5,468.9 470.3,470.1 470.2,471.5 472.1,471.1 473.1,472.6 474.8,473.4 474.2,475.1 475.4,476.3 476.5,477.3 478,476.5 479.1,478.1 481.3,478.4 482.1,480.2 482.9,481.5 483.9,482.5 485.5,482.8 485.9,484.9 487.7,485.9 487.8,488 489.7,488.8 489.5,490.9 490.9,492.1 492.9,491.8 494.9,491 496.8,492.5 497.8,493.8 499.8,494.3 501.6,495.9M368,650 370.6,647.8M368.3,722.9 365.1,725.6" fill="none" stroke="#000" stroke-opacity="0.53" stroke-width="0.62" stroke-linejoin="round" stroke-linecap="round"/>
<path d="M761.3,592.5 759.6,591.4 752.4,593.8 744.4,596.9 738.2,598.3 732.8,598.4 731,596.5 734.6,596.9 738.6,588 741.7,580.9 742.8,572.8 742.8,565.3 741.5,564.4 740.4,566.1 739.1,565.7 738.6,562.6 737.3,561.7 732.8,563.9 726.6,566.6 722.6,571.9 720.8,578.2 718.5,580 715.9,581 713.4,580 712.7,578.2 713.6,576.8 711.4,575.1 708.3,574.2 705.9,573.5 706.5,575.1 707.8,577.3 709.2,581.8 710.5,585.8 708.9,581.8 707.4,578.2 706.5,578.6 703.4,584 704.7,587.1 706.9,590.2 703.4,595.6 701.1,596.2 698,594.7 696.4,596.9 700.3,596.2 703.4,596.9 707.4,600.9 716.3,603.6 715.4,607.6 713.2,606.7 709.2,608.2 713.6,609 714.5,610.7 711.8,614.3 716.8,613.4 715.9,611.2 719,612.1 719.9,617.4 720.3,619.2M761.3,596.9 759.1,597.8 754.2,603.6 744.8,605.8 739.1,612.1 732.6,619.4 733.7,622.3 738.6,619.2 746.2,613 754.2,607.6 761.3,604.5M711.5,614 715.1,610.4 717.3,613.6 711.5,614M717.3,613.6 718.7,612.2 719.6,618.9 729.4,622.1 720.9,619.4 720,621.2 718.7,629.2 717.8,631 713.8,629.2 708.8,636 705.3,634.2 708,636.4 702.6,643.6 693.6,649.8 692.3,647.1 689.2,646.9 683.3,644.5 684.2,647.1 688.7,647.1 686.9,659.2 684.2,659 682.4,661.5 686.9,663.7 691,663.2 691.8,664.6 687.4,667.3 680.7,671.7 679.8,668.6 684.2,665 686.9,664.1M739.3,626.1 734.4,625.7 731.7,627.9 723.2,631 715.1,637.7 713.8,640.9 711.5,641.3 713.8,641.3 703.5,648.5 702.1,650.3 702.6,652.1 695.4,656.5 692.7,661.5 695.9,658.8 704.4,652.5 715.1,644.5 727.6,634.6 739.3,626.1M739.3,626.1 692.7,661.7 674.8,680M635,706.2 617.8,716.8 602.1,726.8 583.1,736.4 557.9,749.2M627.3,709.5 623.4,711.2 618.3,713.2 615,711.5 609.4,712.1 593.2,718.1 591.5,721.3 592.6,724.6 589.8,729.3 601,726.8 606.6,722.4 613.3,718.5 621.1,714.5 627.3,709.5M601,726.8 606.6,721.3 615.5,716.8 624.5,711.7M556.3,733 560.2,730.2 563.5,729.3 565.2,731.3 559,735.8 556.8,736.7 556.3,733M565.2,731.3 578.6,726.3 584.2,725.2 588.1,725.2 587,732.4 583.1,733.6 582.5,736.4 581.4,734.7M557.9,749.2 561.3,744.7 566.9,741.9 567.4,743.6 568.6,741.4 581.4,735.8 583.1,733.6M560.2,730.2 557.9,730.2 556.3,726.8 561.3,720.1 562.4,714.5 564.6,710.3 561.3,712.9 559,719 552.3,720.7 551.8,716.8 551.8,721.8 547.9,723.5 547.3,726.8 540,729.3M527.1,761.3 535.7,755.9 514.8,736.7 511.4,736.9 511.1,738.9 505.5,738 505.3,736.4 509.2,736.4 508.1,731.3 509.7,729.3 502.5,719.9 502.5,717.7 512,716.8 512,713.4 514.8,713.4 514.2,721.3 513.7,719.6 514.2,727.4 520.4,728 520.9,726 523.2,728.5 521.5,731.9 524.3,732.4 526.5,728.5 527.1,724 529.3,729.6 529.9,734.1 526,735.8 524.8,738.9 532.1,735.2 536.6,733 539.9,730.4 540.5,726.8 537.1,724 536.6,716.8 534.4,715.1 532.7,717.9 532.1,716.2 529.3,714 528.8,711.2 530.4,710.1 529.3,714 532.1,716.2 532.7,717.9 534.4,721.8 533.8,726.8 536.6,730 538.3,729.6 547.2,726.8 547.8,723.7 551.1,721.8 551.7,717.3 552.2,721.3 558.4,719.6 560.6,713.4 565,710.3M479,761.3 481.8,758.2 484,760.4 482.9,761.3M483.5,755.4 485.7,751.5 487.4,751.7 487.9,755.4 491.8,758.2 492.4,761.3M487.9,755.4 489,761.3M674.8,680 659.8,694.4 654.3,694.4 635,706.2" fill="none" stroke="#000" stroke-width="1.6" stroke-linejoin="round" stroke-linecap="round"/>
<path d="M435.2,10.6 438.3,14.1 441.3,15.5 445.3,14.1 446.7,10.6M527.8,10.6 530.9,15.1 534.5,18.1 537.9,16.1 538.5,10.6M718.2,10.5 722.2,14.4 728.5,14.7 732.1,17.1 736.5,15.6 737.9,18.9 743.7,19.8 749.1,20.7 751.7,21.1 756.7,28.7 761.6,28.7M749,10.5 749,20.7" fill="none" stroke="#000" stroke-width="1.35" stroke-linejoin="round"/>
<path d="M11.1,663.9 13,671.9 13.3,683.8 20.1,691 20.1,695 24.1,696.6 28.9,716.5 34.5,723.7 34.5,727.6 39.3,730 42,740.1 48,743.6 44.5,747.1 46.8,752.4 47.7,760.8" fill="none" stroke="#222" stroke-width="0.9" stroke-linejoin="round"/>
</g>
<rect x="10.5" y="10.5" width="751" height="751" fill="none" stroke="#000" stroke-width="1.35"/>
<rect x="784.5" y="705.74" width="15" height="55.8" fill="#0000a8"/>
<rect x="784.5" y="650.74" width="15" height="55.8" fill="#0000ff"/>
<rect x="784.5" y="595.74" width="15" height="55.8" fill="#0044ff"/>
<rect x="784.5" y="540.74" width="15" height="55.8" fill="#0090ff"/>
<rect x="784.5" y="485.74" width="15" height="55.8" fill="#00e0fb"/>
<rect x="784.5" y="430.74" width="15" height="55.8" fill="#3cffba"/>
<rect x="784.5" y="375.74" width="15" height="55.8" fill="#7dff7a"/>
<rect x="784.5" y="320.74" width="15" height="55.8" fill="#baff3c"/>
<rect x="784.5" y="265.74" width="15" height="55.8" fill="#fbf100"/>
<rect x="784.5" y="210.74" width="15" height="55.8" fill="#ffa700"/>
<rect x="784.5" y="155.74" width="15" height="55.8" fill="#ff6000"/>
<rect x="784.5" y="100.74" width="15" height="55.8" fill="#ff1600"/>
<rect x="784.5" y="45.74" width="15" height="55.8" fill="#a80000"/>
<polygon points="784.5,46.04 799.5,46.04 792,9.2" fill="#800000"/>
<path d="M784.5,761.5 L784.5,45.74 L792,9.2 L799.5,45.74 L799.5,761.5 Z" fill="none" stroke="#000" stroke-width="1.3" stroke-linejoin="miter"/>
<path d="M794.5,760.5H800.5M794.5,650.5H800.5M794.5,540.5H800.5M794.5,430.5H800.5M794.5,320.5H800.5M794.5,210.5H800.5M794.5,100.5H800.5" stroke="#000" stroke-width="0.8" fill="none"/>
<g filter="url(#idf)"><text x="805.3" y="770.1" textLength="59.9" lengthAdjust="spacingAndGlyphs">5.00</text>
<text x="805.3" y="659.5" textLength="78.4" lengthAdjust="spacingAndGlyphs">15.00</text>
<text x="805.3" y="549.5" textLength="78.4" lengthAdjust="spacingAndGlyphs">25.00</text>
<text x="805.3" y="439.5" textLength="78.4" lengthAdjust="spacingAndGlyphs">35.00</text>
<text x="805.3" y="329.5" textLength="78.4" lengthAdjust="spacingAndGlyphs">45.00</text>
<text x="805.3" y="219.5" textLength="78.4" lengthAdjust="spacingAndGlyphs">55.00</text>
<text x="805.3" y="109.5" textLength="78.4" lengthAdjust="spacingAndGlyphs">65.00</text></g>
</svg>
</body></html>
